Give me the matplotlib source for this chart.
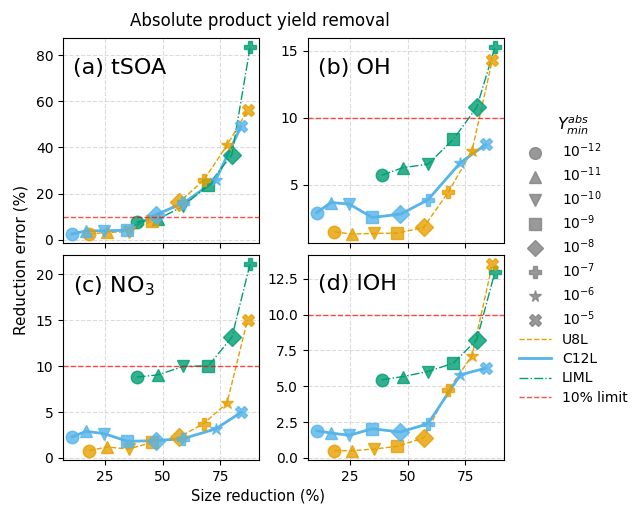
import matplotlib
matplotlib.use("Agg")
import matplotlib.pyplot as plt
from matplotlib.lines import Line2D

# size reduction (%) per mechanism, one value per threshold
x_u8l = [18.2, 25.7, 35.3, 45.4, 56.9, 67.7, 77.9, 86.8]
x_c12l = [10.6, 16.7, 24.7, 34.6, 46.9, 58.8, 72.9, 84.0]
x_liml = [38.7, 48.0, 58.8, 69.8, 80.0, 87.9]

# reduction error (%) per panel
tsoa_u8l = [2.5, 3.2, 3.5, 8.3, 16.2, 25.7, 41.0, 56.0]
tsoa_c12l = [2.5, 3.9, 3.9, 4.2, 10.9, 15.8, 25.7, 49.1]
tsoa_liml = [7.8, 9.0, 14.5, 23.8, 36.8, 83.3]

oh_u8l = [1.51, 1.34, 1.39, 1.41, 1.83, 4.48, 7.52, 14.33]
oh_c12l = [2.94, 3.69, 3.57, 2.58, 2.82, 3.89, 6.66, 8.02]
oh_liml = [5.72, 6.29, 6.54, 8.39, 10.79, 15.24]

no3_u8l = [0.79, 1.19, 0.97, 1.70, 2.24, 3.73, 5.98, 15.03]
no3_c12l = [2.28, 2.90, 2.64, 1.81, 1.88, 2.10, 3.15, 4.96]
no3_liml = [8.80, 9.05, 9.96, 10.03, 13.15, 21.12]

loh_u8l = [0.51, 0.51, 0.62, 0.81, 1.39, 4.76, 7.12, 13.53]
loh_c12l = [1.90, 1.74, 1.58, 2.04, 1.81, 2.39, 5.80, 6.27]
loh_liml = [5.45, 5.68, 6.03, 6.61, 8.24, 12.99]

thresholds = [r"$10^{-12}$", r"$10^{-11}$", r"$10^{-10}$", r"$10^{-9}$",
              r"$10^{-8}$", r"$10^{-7}$", r"$10^{-6}$", r"$10^{-5}$"]
markers = ["o", "^", "v", "s", "D", "P", "*", "X"]

panels = [
    ("(a) tSOA", tsoa_u8l, tsoa_c12l, tsoa_liml),
    ("(b) OH", oh_u8l, oh_c12l, oh_liml),
    (r"(c) NO$_3$", no3_u8l, no3_c12l, no3_liml),
    ("(d) lOH", loh_u8l, loh_c12l, loh_liml),
]

c_u8l = "#E69F00"
c_c12l = "#56B4E9"
c_liml = "#009E73"

fig, axes = plt.subplots(2, 2, figsize=(6.37, 5.08), dpi=100, sharex=True)
fig.subplots_adjust(left=0.099, right=0.791, top=0.925, bottom=0.0945,
                    wspace=0.25, hspace=0.055)

for ax, (label, yu, yc, yl) in zip(axes.flat, panels):
    ax.grid(True, linestyle="--", color="lightgray", alpha=0.8, lw=0.8)
    ax.set_axisbelow(True)
    ax.plot(x_u8l, yu, ls="--", color=c_u8l, lw=1)
    ax.plot(x_c12l, yc, ls="-", color=c_c12l, lw=2)
    ax.plot(x_liml, yl, ls="-.", color=c_liml, lw=1)
    for i, m in enumerate(markers):
        ax.plot(x_u8l[i], yu[i], marker=m, color=c_u8l, ms=9, alpha=0.8, ls="none")
        ax.plot(x_c12l[i], yc[i], marker=m, color=c_c12l, ms=9, alpha=0.8, ls="none")
        if i < len(x_liml):
            ax.plot(x_liml[i], yl[i], marker=m, color=c_liml, ms=9, alpha=0.8, ls="none")
    ax.axhline(10, color="red", ls="--", lw=1, alpha=0.7)
    ax.text(0.05, 0.905, label, transform=ax.transAxes, fontsize=16, va="top")
    ax.set_xticks([25, 50, 75])

axes[0, 1].set_yticks([5, 10, 15])

fig.text(0.408, 0.948, "Absolute product yield removal", ha="center", fontsize=12)
fig.text(0.405, 0.015, "Size reduction (%)", ha="center", fontsize=10.5)
fig.text(0.033, 0.488, "Reduction error (%)", ha="center", va="center",
         rotation=90, fontsize=11)

handles = [Line2D([], [], marker=m, color="gray", alpha=0.8, ms=8.5, ls="none")
           for m in markers]
handles += [Line2D([], [], color=c_u8l, ls="--", lw=1),
            Line2D([], [], color=c_c12l, ls="-", lw=2),
            Line2D([], [], color=c_liml, ls="-.", lw=1),
            Line2D([], [], color="red", ls="--", lw=1, alpha=0.7)]
labels = thresholds + ["U8L", "C12L", "LIML", "10% limit"]
fig.legend(handles, labels, title=r"$Y^{abs}_{min}$", loc="center left",
           bbox_to_anchor=(0.795, 0.49), frameon=False, fontsize=10,
           title_fontsize=11.5, labelspacing=0.38, handlelength=2.3)

fig.savefig("out.png")
